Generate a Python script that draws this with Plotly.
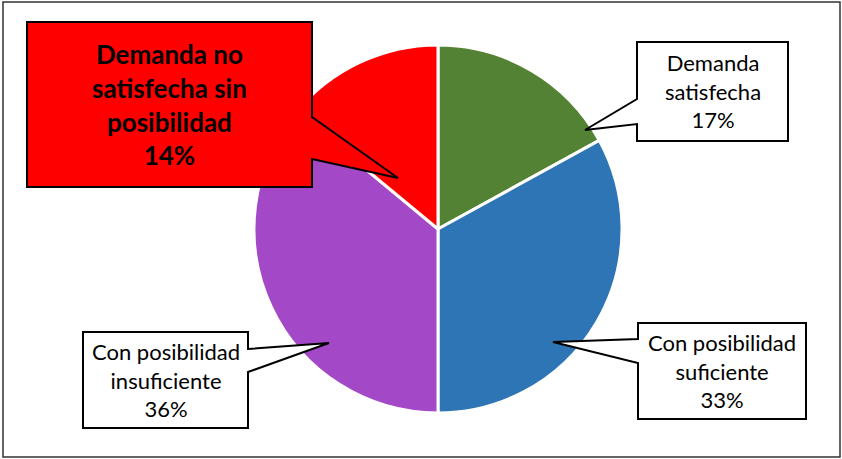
import plotly.graph_objects as go

# ---- data ----
categories = ["Demanda satisfecha", "Con posibilidad suficiente",
              "Con posibilidad insuficiente", "Demanda no satisfecha sin posibilidad"]
values = [17, 33, 36, 14]
colors = ["#548235", "#2E75B6", "#A349C8", "#FF0000"]
label_lines = [["Demanda", "satisfecha"],
               ["Con posibilidad", "suficiente"],
               ["Con posibilidad", "insuficiente"],
               ["Demanda no", "satisfecha sin", "posibilidad"]]

W, H = 842, 459


def px(x, y):
    return x / W, 1 - y / H


# pie placement (pixels)
cx, cy, r = 438, 229, 184
x0, _ = px(cx - r, 0)
x1, _ = px(cx + r, 0)
_, y1 = px(0, cy - r)
_, y0 = px(0, cy + r)

fig = go.Figure(go.Pie(
    labels=categories, values=values, sort=False, direction="clockwise",
    rotation=0, marker=dict(colors=colors, line=dict(color="white", width=3)),
    textinfo="none", hoverinfo="label+percent",
    domain=dict(x=[x0, x1], y=[y0, y1]),
))

# callout geometry (pixels): box (l, t, r, b), pointer side, pointer span, tip
callouts = [
    dict(box=(637, 42, 788, 141), side="left", span=(99, 124), tip=(585, 130),
         fill="white", size=22, bold=False),
    dict(box=(638, 323, 806, 419), side="left", span=(339, 363), tip=(553, 342),
         fill="white", size=22, bold=False),
    dict(box=(83, 332, 248, 428), side="right", span=(349, 372), tip=(329, 343),
         fill="white", size=22, bold=False),
    dict(box=(27, 22, 312, 187), side="right", span=(117, 159), tip=(398, 178),
         fill="#FF0000", size=26, bold=True),
]

shapes = []
annotations = []
total = sum(values)
for cat, val, lines, c in zip(categories, values, label_lines, callouts):
    l, t, rr, b = c["box"]
    s0, s1 = c["span"]
    tx, ty = c["tip"]
    if c["side"] == "left":
        pts = [(l, t), (rr, t), (rr, b), (l, b), (l, s1), (tx, ty), (l, s0)]
    else:
        pts = [(l, t), (rr, t), (rr, s0), (tx, ty), (rr, s1), (rr, b), (l, b)]
    conv = [px(*p) for p in pts]
    path = "M " + " L ".join(f"{a:.5f},{bb:.5f}" for a, bb in conv) + " Z"
    shapes.append(dict(type="path", xref="paper", yref="paper", path=path,
                       fillcolor=c["fill"], line=dict(color="black", width=2),
                       layer="above"))
    pct = f"{round(100 * val / total)}%"
    txt = "<br>".join(lines + [pct])
    if c["bold"]:
        txt = "<b>" + txt + "</b>"
    axp, ayp = px((l + rr) / 2, (t + b) / 2)
    annotations.append(dict(x=axp, y=ayp, xref="paper", yref="paper",
                            text=txt, showarrow=False, align="center",
                            xanchor="center", yanchor="middle",
                            font=dict(family="Lato, Open Sans, sans-serif",
                                      size=c["size"], color="black")))

# outer chart border
bx0, by0 = px(3, 2)
bx1, by1 = px(840, 457)
shapes.insert(0, dict(type="rect", xref="paper", yref="paper",
                      x0=bx0, y0=by1, x1=bx1, y1=by0,
                      line=dict(color="#333333", width=1.5)))

fig.update_layout(
    width=W, height=H, margin=dict(l=0, r=0, t=0, b=0),
    paper_bgcolor="white", plot_bgcolor="white", showlegend=False,
    shapes=shapes, annotations=annotations,
)

fig.write_html("out.html", config={"displayModeBar": False},
               post_script="document.body.style.margin='0';document.body.style.overflow='hidden';")
